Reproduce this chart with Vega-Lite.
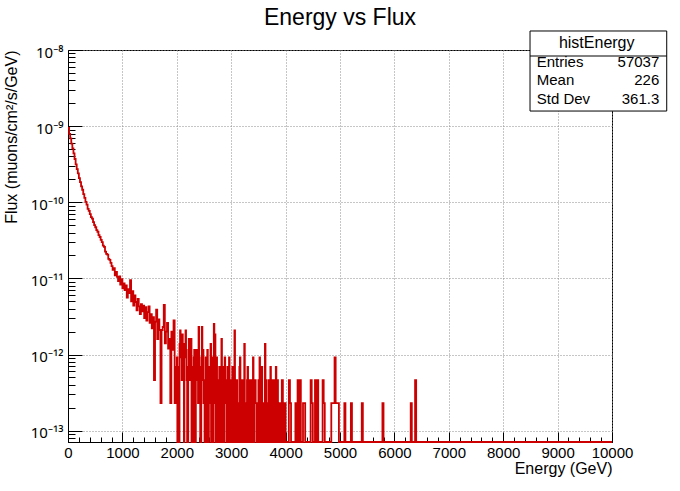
{
"$schema": "https://vega.github.io/schema/vega-lite/v6.json",
"width": 544,
"height": 392,
"autosize": {"type": "none"},
"padding": {"left": 68, "top": 50, "right": 68, "bottom": 49},
"background": "#ffffff",
"config": {"view": {"stroke": "#000000", "strokeWidth": 1}, "font": "Liberation Sans"},
"title": {"text": "Energy vs Flux", "fontSize": 23, "fontWeight": "normal", "color": "#000000", "font": "Liberation Sans", "anchor": "middle", "offset": 0},
"datasets": {
"hist": [
{"e":0,"f":9.5e-10},{"e":20,"f":7.9e-10},{"e":40,"f":6.9e-10},{"e":60,"f":5.9e-10},{"e":80,"f":5.1e-10},
{"e":100,"f":4.4e-10},{"e":120,"f":3.7e-10},{"e":140,"f":3.15e-10},{"e":160,"f":2.72e-10},{"e":180,"f":2.4e-10},
{"e":200,"f":2.07e-10},{"e":220,"f":1.84e-10},{"e":240,"f":1.62e-10},{"e":260,"f":1.46e-10},{"e":280,"f":1.28e-10},
{"e":300,"f":1.14e-10},{"e":320,"f":1.01e-10},{"e":340,"f":9.3e-11},{"e":360,"f":8.2e-11},{"e":380,"f":7.7e-11},
{"e":400,"f":7.0e-11},{"e":420,"f":6.4e-11},{"e":440,"f":6.1e-11},{"e":460,"f":5.5e-11},{"e":480,"f":5.0e-11},
{"e":500,"f":4.7e-11},{"e":520,"f":4.3e-11},{"e":540,"f":4.1e-11},{"e":560,"f":3.7e-11},{"e":580,"f":3.5e-11},
{"e":600,"f":3.2e-11},{"e":620,"f":3.0e-11},{"e":640,"f":2.7e-11},{"e":660,"f":2.6e-11},{"e":680,"f":2.25e-11},
{"e":700,"f":2.1e-11},{"e":720,"f":2.05e-11},{"e":740,"f":1.8e-11},{"e":760,"f":1.75e-11},{"e":780,"f":1.6e-11},
{"e":800,"f":1.45e-11},{"e":820,"f":1.3e-11},{"e":840,"f":1.36e-11},{"e":860,"f":1.1e-11},{"e":880,"f":1.22e-11},
{"e":900,"f":1.05e-11},{"e":920,"f":9.2e-12},{"e":940,"f":1.06e-11},{"e":960,"f":8.3e-12},{"e":980,"f":9.8e-12},
{"e":1000,"f":7.4e-12},{"e":1020,"f":8.6e-12},{"e":1040,"f":7.0e-12},{"e":1060,"f":8.1e-12},{"e":1080,"f":5.6e-12},
{"e":1100,"f":7.2e-12},{"e":1120,"f":6.4e-12},{"e":1140,"f":9.5e-12},{"e":1160,"f":5.0e-12},{"e":1180,"f":6.8e-12},
{"e":1200,"f":4.4e-12},{"e":1220,"f":6.0e-12},{"e":1240,"f":4.9e-12},{"e":1260,"f":3.8e-12},{"e":1280,"f":5.4e-12},
{"e":1300,"f":4.3e-12},{"e":1320,"f":3.4e-12},{"e":1340,"f":4.6e-12},{"e":1360,"f":3.7e-12},{"e":1380,"f":4.4e-12},
{"e":1400,"f":3.0e-12},{"e":1420,"f":4.2e-12},{"e":1440,"f":2.8e-12},{"e":1460,"f":3.6e-12},{"e":1480,"f":4.3e-12},
{"e":1500,"f":2.6e-12},{"e":1520,"f":3.4e-12},{"e":1540,"f":2.2e-12},{"e":1560,"f":3.1e-12},{"e":1580,"f":4.6e-13},
{"e":1600,"f":2.7e-12},{"e":1620,"f":3.9e-12},{"e":1640,"f":1.6e-12},{"e":1660,"f":2.9e-12},{"e":1680,"f":2.1e-12},
{"e":1700,"f":2.3e-13},{"e":1720,"f":2.1e-12},{"e":1740,"f":2.3e-12},{"e":1760,"f":4.5e-12},{"e":1780,"f":1.4e-12},
{"e":1800,"f":2.0e-12},{"e":1820,"f":2.6e-12},{"e":1840,"f":1.2e-12},{"e":1860,"f":1.6e-12},{"e":1880,"f":2.3e-13},
{"e":1900,"f":2.0e-12},{"e":1920,"f":1.15e-12},{"e":1940,"f":2.8e-12},{"e":1960,"f":2.3e-13},{"e":1980,"f":6.9e-13},
{"e":2000,"f":9.2e-13},{"e":2010,"f":0},{"e":2020,"f":6.9e-13},{"e":2030,"f":4.6e-13},{"e":2040,"f":0},{"e":2050,"f":1.38e-12},{"e":2060,"f":2.07e-12},{"e":2070,"f":9.2e-13},{"e":2080,"f":1.15e-12},{"e":2090,"f":4.6e-13},
{"e":2100,"f":1.84e-12},{"e":2110,"f":6.9e-13},{"e":2120,"f":4.6e-13},{"e":2130,"f":0},{"e":2140,"f":1.38e-12},{"e":2150,"f":9.2e-13},{"e":2160,"f":2.07e-12},{"e":2170,"f":1.15e-12},{"e":2180,"f":4.6e-13},{"e":2190,"f":0},
{"e":2200,"f":0},{"e":2210,"f":6.9e-13},{"e":2220,"f":1.61e-12},{"e":2230,"f":4.6e-13},{"e":2240,"f":9.2e-13},{"e":2250,"f":1.38e-12},{"e":2260,"f":1.61e-12},{"e":2270,"f":0},{"e":2280,"f":2.3e-13},{"e":2290,"f":6.9e-13},
{"e":2300,"f":0},{"e":2310,"f":9.2e-13},{"e":2320,"f":1.15e-12},{"e":2330,"f":0},{"e":2340,"f":0},{"e":2350,"f":4.6e-13},{"e":2360,"f":1.15e-12},{"e":2370,"f":6.9e-13},{"e":2380,"f":6.9e-13},{"e":2390,"f":2.3e-13},
{"e":2400,"f":2.3e-12},{"e":2410,"f":9.2e-13},{"e":2420,"f":4.6e-13},{"e":2430,"f":0},{"e":2440,"f":0},{"e":2450,"f":6.9e-13},{"e":2460,"f":2.3e-12},{"e":2470,"f":4.6e-13},{"e":2480,"f":1.15e-12},{"e":2490,"f":2.3e-13},
{"e":2500,"f":4.6e-13},{"e":2510,"f":0},{"e":2520,"f":0},{"e":2530,"f":9.2e-13},{"e":2540,"f":2.3e-13},{"e":2550,"f":0},{"e":2560,"f":1.15e-12},{"e":2570,"f":4.6e-13},{"e":2580,"f":0},{"e":2590,"f":6.9e-13},
{"e":2600,"f":6.9e-13},{"e":2610,"f":2.3e-13},{"e":2620,"f":1.38e-12},{"e":2630,"f":0},{"e":2640,"f":4.6e-13},{"e":2650,"f":9.2e-13},{"e":2660,"f":0},{"e":2670,"f":2.3e-13},{"e":2680,"f":2.53e-12},{"e":2690,"f":6.9e-13},
{"e":2700,"f":1.84e-12},{"e":2710,"f":0},{"e":2720,"f":4.6e-13},{"e":2730,"f":9.2e-13},{"e":2740,"f":0},{"e":2750,"f":4.6e-13},{"e":2760,"f":4.6e-13},{"e":2770,"f":0},{"e":2780,"f":6.9e-13},{"e":2790,"f":2.3e-13},
{"e":2800,"f":0},{"e":2810,"f":4.6e-13},{"e":2820,"f":1.61e-12},{"e":2830,"f":0},{"e":2840,"f":4.6e-13},{"e":2850,"f":6.9e-13},{"e":2860,"f":0},{"e":2870,"f":2.3e-13},{"e":2880,"f":9.2e-13},{"e":2890,"f":4.6e-13},
{"e":2900,"f":2.3e-13},{"e":2910,"f":0},{"e":2920,"f":4.6e-13},{"e":2930,"f":6.9e-13},{"e":2940,"f":0},{"e":2950,"f":2.3e-13},{"e":2960,"f":9.2e-13},{"e":2970,"f":0},{"e":2980,"f":4.6e-13},{"e":2990,"f":2.3e-13},
{"e":3000,"f":0},{"e":3010,"f":4.6e-13},{"e":3020,"f":6.9e-13},{"e":3030,"f":0},{"e":3040,"f":2.3e-13},{"e":3050,"f":4.6e-13},{"e":3060,"f":2.07e-12},{"e":3070,"f":0},{"e":3080,"f":0},{"e":3090,"f":2.3e-13},
{"e":3100,"f":4.6e-13},{"e":3110,"f":0},{"e":3120,"f":0},{"e":3130,"f":2.3e-13},{"e":3140,"f":0},{"e":3150,"f":6.9e-13},{"e":3160,"f":9.2e-13},{"e":3170,"f":0},{"e":3180,"f":2.3e-13},{"e":3190,"f":4.6e-13},
{"e":3200,"f":4.6e-13},{"e":3210,"f":0},{"e":3220,"f":0},{"e":3230,"f":2.3e-13},{"e":3240,"f":1.38e-12},{"e":3250,"f":0},{"e":3260,"f":2.3e-13},{"e":3270,"f":0},{"e":3280,"f":0},{"e":3290,"f":4.6e-13},
{"e":3300,"f":6.9e-13},{"e":3310,"f":0},{"e":3320,"f":0},{"e":3330,"f":2.3e-13},{"e":3340,"f":4.6e-13},{"e":3350,"f":0},{"e":3360,"f":2.3e-13},{"e":3370,"f":4.6e-13},{"e":3380,"f":0},{"e":3390,"f":2.3e-13},
{"e":3400,"f":9.2e-13},{"e":3410,"f":0},{"e":3420,"f":0},{"e":3430,"f":4.6e-13},{"e":3440,"f":4.6e-13},{"e":3450,"f":2.3e-13},{"e":3460,"f":2.3e-13},{"e":3470,"f":0},{"e":3480,"f":0},{"e":3490,"f":2.3e-13},
{"e":3500,"f":4.6e-13},{"e":3510,"f":0},{"e":3520,"f":9.2e-13},{"e":3530,"f":2.3e-13},{"e":3540,"f":0},{"e":3550,"f":4.6e-13},{"e":3560,"f":6.9e-13},{"e":3570,"f":0},{"e":3580,"f":2.3e-13},{"e":3590,"f":0},
{"e":3600,"f":0},{"e":3610,"f":2.3e-13},{"e":3620,"f":1.38e-12},{"e":3630,"f":0},{"e":3640,"f":4.6e-13},{"e":3650,"f":2.3e-13},{"e":3660,"f":2.3e-13},{"e":3670,"f":0},{"e":3680,"f":0},{"e":3690,"f":4.6e-13},
{"e":3700,"f":0},{"e":3710,"f":2.3e-13},{"e":3720,"f":6.9e-13},{"e":3730,"f":0},{"e":3740,"f":4.6e-13},{"e":3750,"f":0},{"e":3760,"f":2.3e-13},{"e":3770,"f":4.6e-13},{"e":3780,"f":0},{"e":3790,"f":2.3e-13},
{"e":3800,"f":4.6e-13},{"e":3810,"f":0},{"e":3820,"f":6.9e-13},{"e":3830,"f":2.3e-13},{"e":3840,"f":0},{"e":3850,"f":4.6e-13},{"e":3860,"f":2.3e-13},{"e":3870,"f":0},{"e":3880,"f":0},{"e":3890,"f":2.3e-13},
{"e":3900,"f":2.3e-13},{"e":3910,"f":0},{"e":3920,"f":0},{"e":3930,"f":4.6e-13},{"e":3940,"f":4.6e-13},{"e":3950,"f":0},{"e":3960,"f":0},{"e":3970,"f":2.3e-13},{"e":3980,"f":0},{"e":3990,"f":2.3e-13},
{"e":4000,"f":0},
{"e":4060,"f":4.6e-13},{"e":4080,"f":2.3e-13},{"e":4100,"f":0},{"e":4180,"f":2.3e-13},{"e":4200,"f":0},
{"e":4220,"f":4.6e-13},{"e":4240,"f":0},{"e":4260,"f":4.6e-13},{"e":4280,"f":0},{"e":4320,"f":2.3e-13},
{"e":4340,"f":2.3e-13},{"e":4360,"f":0},{"e":4460,"f":4.6e-13},{"e":4480,"f":2.3e-13},{"e":4500,"f":0},
{"e":4540,"f":4.6e-13},{"e":4560,"f":0},{"e":4580,"f":4.6e-13},{"e":4600,"f":0},{"e":4680,"f":4.6e-13},
{"e":4700,"f":2.3e-13},{"e":4720,"f":0},{"e":4840,"f":2.3e-13},{"e":4860,"f":2.3e-13},{"e":4880,"f":2.3e-13},
{"e":4900,"f":9.2e-13},{"e":4920,"f":2.3e-13},{"e":4940,"f":2.3e-13},{"e":4960,"f":2.3e-13},{"e":4980,"f":0},
{"e":5080,"f":2.3e-13},{"e":5100,"f":0},{"e":5200,"f":2.3e-13},{"e":5220,"f":0},{"e":5400,"f":2.3e-13},
{"e":5420,"f":0},{"e":5780,"f":2.3e-13},{"e":5800,"f":0},{"e":6300,"f":2.3e-13},{"e":6320,"f":0},
{"e":6380,"f":4.6e-13},{"e":6400,"f":0},{"e":10000,"f":0}
],
"box": [{"name": "histEnergy"}],
"stats": [{"k": "Entries", "v": "57037"}, {"k": "Mean", "v": "226"}, {"k": "Std Dev", "v": "361.3"}]
},
"resolve": {"scale": {"x": "independent", "y": "independent"}},
"layer": [
{
"data": {"name": "hist"},
"mark": {"type": "line", "interpolate": "step-after", "color": "#cc0000", "strokeWidth": 1.8},
"encoding": {
"x": {"field": "e", "type": "quantitative", "scale": {"domain": [0, 10000], "nice": false, "zero": false},
"axis": {
"values": [0,200,400,600,800,1000,1200,1400,1600,1800,2000,2200,2400,2600,2800,3000,3200,3400,3600,3800,4000,4200,4400,4600,4800,5000,5200,5400,5600,5800,6000,6200,6400,6600,6800,7000,7200,7400,7600,7800,8000,8200,8400,8600,8800,9000,9200,9400,9600,9800,10000],
"format": "d",
"labelExpr": "datum.value % 1000 == 0 ? datum.label : ''",
"labelFlush": false, "labelOverlap": false,
"labelFont": "Liberation Sans", "labelFontSize": 15, "labelColor": "#000000",
"labelPadding": 13,
"tickSize": {"condition": {"test": "datum.value % 1000 == 0", "value": -10}, "value": -5},
"tickColor": "#000000", "domainColor": "#000000",
"grid": true, "gridColor": "#8c8c8c", "gridDash": [1, 2],
"gridOpacity": {"condition": {"test": "datum.value % 1000 == 0", "value": 1}, "value": 0},
"title": "Energy (GeV)", "titleAnchor": "end", "titleFont": "Liberation Sans", "titleFontSize": 16, "titleFontWeight": "normal", "titleColor": "#000000", "titleBaseline": "alphabetic", "titleY": 31
}},
"y": {"field": "f", "type": "quantitative", "scale": {"type": "log", "domain": [7.1e-14, 1e-8], "nice": false, "clamp": true},
"axis": {
"values": [8e-14,9e-14,1e-13,2e-13,3e-13,4e-13,5e-13,6e-13,7e-13,8e-13,9e-13,1e-12,2e-12,3e-12,4e-12,5e-12,6e-12,7e-12,8e-12,9e-12,1e-11,2e-11,3e-11,4e-11,5e-11,6e-11,7e-11,8e-11,9e-11,1e-10,2e-10,3e-10,4e-10,5e-10,6e-10,7e-10,8e-10,9e-10,1e-9,2e-9,3e-9,4e-9,5e-9,6e-9,7e-9,8e-9,9e-9,1e-8],
"labelExpr": "abs(log(datum.value)/LN10 - round(log(datum.value)/LN10)) > 0.001 ? '' : round(log(datum.value)/LN10) == -8 ? '10⁻⁸' : round(log(datum.value)/LN10) == -9 ? '10⁻⁹' : round(log(datum.value)/LN10) == -10 ? '10⁻¹⁰' : round(log(datum.value)/LN10) == -11 ? '10⁻¹¹' : round(log(datum.value)/LN10) == -12 ? '10⁻¹²' : '10⁻¹³'",
"labelOverlap": false, "labelFlush": false,
"labelFont": "Noto Sans", "labelFontSize": 15, "labelColor": "#000000",
"labelPadding": 19, "labelOffset": 2, "labelBaseline": "middle",
"tickSize": {"condition": {"test": "abs(log(datum.value)/LN10 - round(log(datum.value)/LN10)) < 0.001", "value": -14}, "value": -7},
"tickColor": "#000000", "domainColor": "#000000",
"grid": true, "gridColor": "#8c8c8c", "gridDash": [1, 2],
"gridOpacity": {"condition": {"test": "abs(log(datum.value)/LN10 - round(log(datum.value)/LN10)) < 0.001", "value": 1}, "value": 0},
"title": "Flux (muons/cm²/s/GeV)", "titleAnchor": "end", "titleFont": "Liberation Sans", "titleFontSize": 16, "titleFontWeight": "normal", "titleColor": "#000000", "titleBaseline": "alphabetic", "titleX": -52
}}
}
},
{
"layer": [
{
"data": {"name": "box"},
"mark": {"type": "rect", "fill": "#ffffff", "stroke": "#000000", "strokeWidth": 1},
"encoding": {
"x": {"datum": 8493, "type": "quantitative", "scale": {"domain": [0, 10000], "nice": false, "zero": false}, "axis": null},
"x2": {"datum": 11006},
"y": {"datum": 1.777e-8, "type": "quantitative", "scale": {"type": "log", "domain": [7.1e-14, 1e-8], "nice": false}, "axis": null},
"y2": {"datum": 1.579e-9}
}
},
{
"data": {"name": "box"},
"mark": {"type": "rule", "color": "#000000", "strokeWidth": 1},
"encoding": {
"x": {"datum": 8493, "type": "quantitative", "axis": null},
"x2": {"datum": 11006},
"y": {"datum": 8.34e-9, "type": "quantitative", "axis": null}
}
},
{
"data": {"name": "box"},
"mark": {"type": "text", "align": "center", "baseline": "alphabetic", "font": "Liberation Sans", "fontSize": 16, "color": "#000000"},
"encoding": {
"x": {"datum": 9719, "type": "quantitative", "axis": null},
"y": {"datum": 1.062e-8, "type": "quantitative", "axis": null},
"text": {"field": "name"}
}
},
{
"data": {"name": "stats"},
"transform": [{"filter": "datum.k == 'Entries'"}],
"mark": {"type": "text", "align": "left", "baseline": "alphabetic", "font": "Liberation Sans", "fontSize": 15, "color": "#000000"},
"encoding": {"x": {"datum": 8616, "type": "quantitative", "axis": null}, "y": {"datum": 5.98e-9, "type": "quantitative", "axis": null}, "text": {"field": "k"}}
},
{
"data": {"name": "stats"},
"transform": [{"filter": "datum.k == 'Entries'"}],
"mark": {"type": "text", "align": "right", "baseline": "alphabetic", "font": "Liberation Sans", "fontSize": 15, "color": "#000000"},
"encoding": {"x": {"datum": 10869, "type": "quantitative", "axis": null}, "y": {"datum": 5.98e-9, "type": "quantitative", "axis": null}, "text": {"field": "v"}}
},
{
"data": {"name": "stats"},
"transform": [{"filter": "datum.k == 'Mean'"}],
"mark": {"type": "text", "align": "left", "baseline": "alphabetic", "font": "Liberation Sans", "fontSize": 15, "color": "#000000"},
"encoding": {"x": {"datum": 8616, "type": "quantitative", "axis": null}, "y": {"datum": 3.42e-9, "type": "quantitative", "axis": null}, "text": {"field": "k"}}
},
{
"data": {"name": "stats"},
"transform": [{"filter": "datum.k == 'Mean'"}],
"mark": {"type": "text", "align": "right", "baseline": "alphabetic", "font": "Liberation Sans", "fontSize": 15, "color": "#000000"},
"encoding": {"x": {"datum": 10869, "type": "quantitative", "axis": null}, "y": {"datum": 3.42e-9, "type": "quantitative", "axis": null}, "text": {"field": "v"}}
},
{
"data": {"name": "stats"},
"transform": [{"filter": "datum.k == 'Std Dev'"}],
"mark": {"type": "text", "align": "left", "baseline": "alphabetic", "font": "Liberation Sans", "fontSize": 15, "color": "#000000"},
"encoding": {"x": {"datum": 8616, "type": "quantitative", "axis": null}, "y": {"datum": 1.952e-9, "type": "quantitative", "axis": null}, "text": {"field": "k"}}
},
{
"data": {"name": "stats"},
"transform": [{"filter": "datum.k == 'Std Dev'"}],
"mark": {"type": "text", "align": "right", "baseline": "alphabetic", "font": "Liberation Sans", "fontSize": 15, "color": "#000000"},
"encoding": {"x": {"datum": 10869, "type": "quantitative", "axis": null}, "y": {"datum": 1.952e-9, "type": "quantitative", "axis": null}, "text": {"field": "v"}}
}
]
}
]
}
